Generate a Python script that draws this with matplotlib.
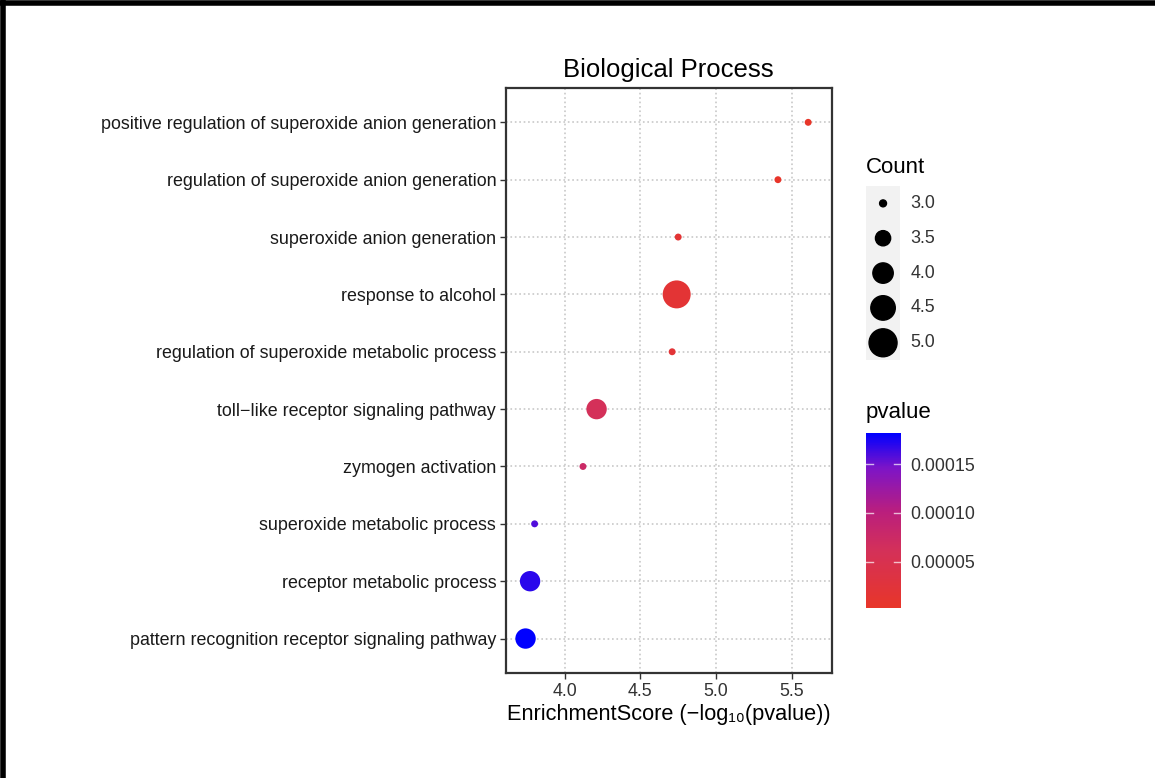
import numpy as np
import matplotlib
matplotlib.use("Agg")
import matplotlib.pyplot as plt
from matplotlib.colors import LinearSegmentedColormap, Normalize
from matplotlib.lines import Line2D

plt.rcParams['font.family'] = ['Liberation Sans', 'DejaVu Sans']

# GO terms, top to bottom
terms = [
    "positive regulation of superoxide anion generation",
    "regulation of superoxide anion generation",
    "superoxide anion generation",
    "response to alcohol",
    "regulation of superoxide metabolic process",
    "toll\u2212like receptor signaling pathway",
    "zymogen activation",
    "superoxide metabolic process",
    "receptor metabolic process",
    "pattern recognition receptor signaling pathway",
]
enrich = [5.61, 5.41, 4.75, 4.74, 4.71, 4.21, 4.12, 3.80, 3.77, 3.74]
counts = [3, 3, 3, 5, 3, 4, 3, 3, 4, 4]
pvals = [10 ** (-e) for e in enrich]

count_breaks = [3.0, 3.5, 4.0, 4.5, 5.0]
p_ticks = [0.00005, 0.00010, 0.00015]


def dot_size(c):
    # area grows linearly with count (ggplot scale_size style)
    r2 = 12 + 92 * (np.asarray(c, dtype=float) - 3)
    return 2.07 * r2


cmap = LinearSegmentedColormap.from_list("rb", [
    (0.00, (0.91, 0.21, 0.16)),
    (0.33, (0.83, 0.19, 0.35)),
    (0.55, (0.73, 0.12, 0.49)),
    (0.80, (0.49, 0.08, 0.78)),
    (1.00, (0.00, 0.00, 1.00)),
])
norm = Normalize(vmin=min(pvals), vmax=max(pvals))

fig = plt.figure(figsize=(11.55, 7.78), dpi=100)

# screenshot frame (top and left edges)
fig.add_artist(Line2D([0, 1], [0.9965, 0.9965], color="black", lw=4, transform=fig.transFigure))
fig.add_artist(Line2D([0.0024, 0.0024], [0, 1], color="black", lw=4, transform=fig.transFigure))

ax = fig.add_axes([0.438, 0.135, 0.282, 0.752])
ypos = np.arange(len(terms))[::-1]
ax.scatter(enrich, ypos, s=dot_size(counts), c=pvals, cmap=cmap, norm=norm,
           edgecolors="none", zorder=3)
ax.set_xlim(3.61, 5.765)
ax.set_ylim(-0.6, len(terms) - 0.4)
ax.set_yticks(ypos)
ax.set_yticklabels(terms, fontsize=12.9, color="#1a1a1a")
ax.set_xticks([4.0, 4.5, 5.0, 5.5])
ax.set_xticklabels(["4.0", "4.5", "5.0", "5.5"], fontsize=12.9, color="#333333")
ax.grid(True, linestyle=":", color="#c8c8c8", lw=1.2, zorder=0)
for sp in ax.spines.values():
    sp.set_linewidth(1.6)
    sp.set_color("#333333")
ax.tick_params(length=4, width=1, color="#333333", pad=3)
ax.set_title("Biological Process", fontsize=18.5, pad=8)
ax.set_xlabel("EnrichmentScore (\u2212log\u2081\u2080(pvalue))", fontsize=15.7, labelpad=3)

# size legend
fig.text(0.7498, 0.7845, "Count", fontsize=16, va="center", ha="left")
lax = fig.add_axes([0.7498, 0.537, 0.0295, 0.224])
lax.set_facecolor("#f2f2f2")
ly = np.arange(len(count_breaks))[::-1]
lax.scatter([0] * len(count_breaks), ly, s=dot_size(count_breaks), color="black")
lax.set_xlim(-1, 1)
lax.set_ylim(-0.5, len(count_breaks) - 0.5)
lax.set_xticks([])
lax.set_yticks([])
for sp in lax.spines.values():
    sp.set_visible(False)
for yy, b in zip(ly, count_breaks):
    lax.text(1.6, yy, f"{b:.1f}", fontsize=12.9, va="center", ha="left",
             color="#333333", transform=lax.transData, clip_on=False)

# colour bar
cax = fig.add_axes([0.7498, 0.2185, 0.0303, 0.225])
sm = plt.cm.ScalarMappable(norm=norm, cmap=cmap)
cb = fig.colorbar(sm, cax=cax)
cb.outline.set_visible(False)
cb.set_ticks(p_ticks)
cb.set_ticklabels([f"{t:.5f}" for t in p_ticks])
cax.tick_params(length=0, labelsize=12.9, labelcolor="#333333", pad=7)
for t in p_ticks:
    cax.plot([0, 0.2], [t, t], color="white", lw=1, alpha=0.7, transform=cax.get_yaxis_transform())
    cax.plot([0.8, 1.0], [t, t], color="white", lw=1, alpha=0.7, transform=cax.get_yaxis_transform())
fig.text(0.7490, 0.470, "pvalue", fontsize=16, va="center", ha="left")

fig.savefig("out.png", dpi=100)
